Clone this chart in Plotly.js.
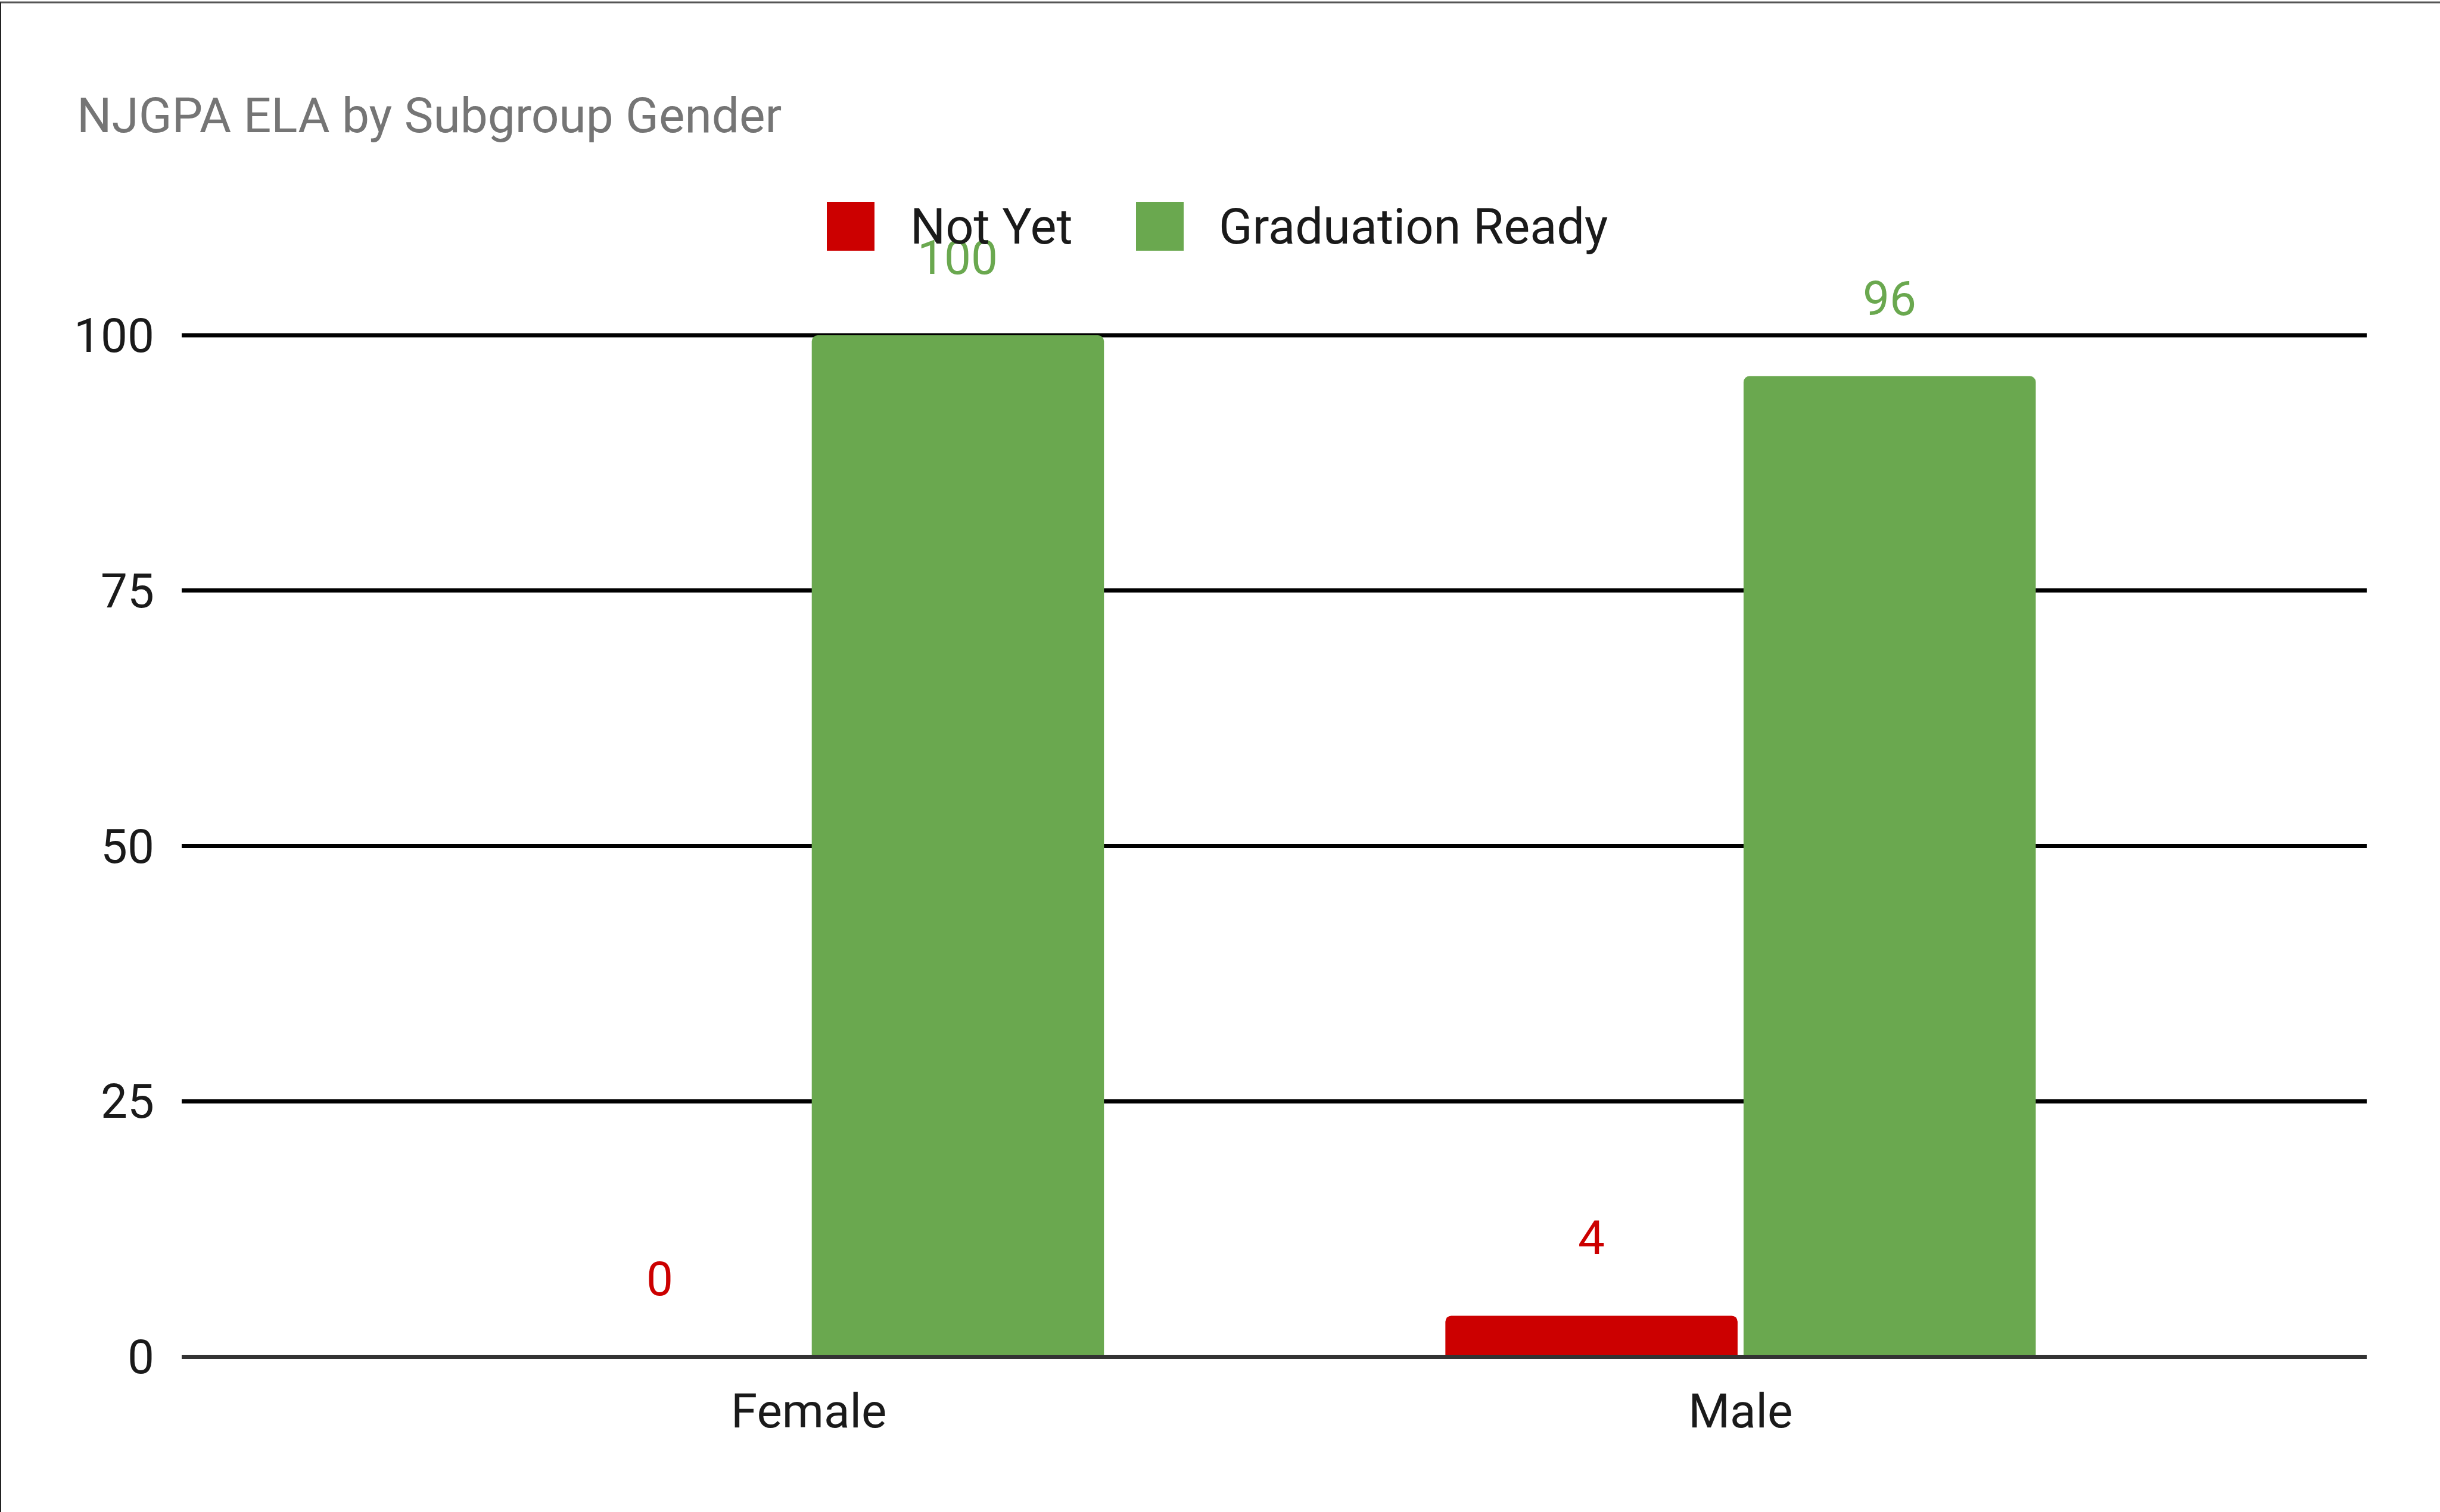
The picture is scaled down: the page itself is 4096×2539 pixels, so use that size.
<!DOCTYPE html>
<html>
<head>
<meta charset="utf-8">
<script src="https://cdn.plot.ly/plotly-3.0.1.min.js"></script>
<style>
  html, body { margin: 0; padding: 0; background: #ffffff; }
  #chart { width: 4096px; height: 2539px; }
</style>
</head>
<body>
<div id="chart"></div>
<script>
// ---- Data ----
const categories = ['Female', 'Male'];
const seriesNames = ['Not Yet', 'Graduation Ready'];
const notYet = [0, 4];
const graduationReady = [100, 96];
const seriesColors = ['#cc0000', '#6aa84f'];
const yTickVals = [0, 25, 50, 75, 100];
const chartTitle = 'NJGPA ELA by Subgroup Gender';

// ---- Geometry (output pixels) ----
const W = 4096, H = 2539;
const M = { l: 305, r: 123, t: 563, b: 261 };
const PW = W - M.l - M.r, PH = H - M.t - M.b;
const px2x = X => (X - M.l) / PW;
const px2y = Y => (H - M.b - Y) / PH;

const yRange = [0, 100];
const bargap = 0.36, bargroupgap = 0.02;
const slot = (1 - bargap) / 2;
const offsets = [-slot / 2, slot / 2];
const seriesValues = [notYet, graduationReady];
const FONT = 'Roboto, Arial, sans-serif';

const traces = seriesValues.map((vals, i) => ({
  type: 'bar',
  name: seriesNames[i],
  x: categories,
  y: vals,
  marker: { color: seriesColors[i], cornerradius: 10, line: { width: 0 } },
  hoverinfo: 'skip',
  showlegend: false
}));

// Data labels placed above bars via annotations
const annotations = [];
seriesValues.forEach((vals, i) => {
  vals.forEach((v, j) => {
    annotations.push({
      xref: 'x', yref: 'y',
      x: j + offsets[i], y: v,
      text: String(v),
      showarrow: false,
      xanchor: 'center', yanchor: 'middle',
      yshift: 130,
      font: { family: FONT, size: 80, color: seriesColors[i] }
    });
  });
});

// Custom legend
const legendItems = [
  { sq: [1388, 1468], tx: 1526 },
  { sq: [1907, 1987], tx: 2044 }
];
const legendY = [339, 421];
const shapes = [];
legendItems.forEach((it, i) => {
  shapes.push({
    type: 'rect', xref: 'paper', yref: 'paper',
    x0: px2x(it.sq[0]), x1: px2x(it.sq[1]),
    y0: px2y(legendY[1]), y1: px2y(legendY[0]),
    fillcolor: seriesColors[i], line: { width: 0 }
  });
  annotations.push({
    xref: 'paper', yref: 'paper',
    x: px2x(it.tx), y: px2y(380),
    text: seriesNames[i],
    showarrow: false, xanchor: 'left', yanchor: 'middle',
    font: { family: FONT, size: 83, color: '#1a1a1a' }
  });
});

// Gridline at the top of the range (Plotly omits it at the edge; paper ref avoids clipping)
const yTop = yTickVals[yTickVals.length - 1];
const yTopPaper = (yTop - yRange[0]) / (yRange[1] - yRange[0]);
shapes.push({ type: 'line', xref: 'paper', yref: 'paper', layer: 'below',
  x0: 0, x1: 1, y0: yTopPaper, y1: yTopPaper,
  line: { color: '#000000', width: 7 } });

// Chart border (top and left)
shapes.push({ type: 'line', xref: 'paper', yref: 'paper',
  x0: px2x(0), x1: px2x(W), y0: px2y(4), y1: px2y(4),
  line: { color: '#555555', width: 3 } });
shapes.push({ type: 'line', xref: 'paper', yref: 'paper',
  x0: px2x(1), x1: px2x(1), y0: px2y(4), y1: px2y(H),
  line: { color: '#222222', width: 2 } });

const layout = {
  width: W, height: H,
  margin: M,
  paper_bgcolor: '#ffffff',
  plot_bgcolor: '#ffffff',
  barmode: 'group',
  bargap: bargap,
  bargroupgap: bargroupgap,
  showlegend: false,
  title: {
    text: chartTitle,
    xref: 'container', yref: 'container',
    x: 129 / W, xanchor: 'left',
    y: 1 - 193 / H, yanchor: 'middle',
    font: { family: FONT, size: 82, color: '#757575' }
  },
  xaxis: {
    type: 'category',
    range: [-0.673, 1.672],
    showgrid: false,
    zeroline: false,
    showline: false,
    ticks: '',
    ticklabelstandoff: 38,
    tickfont: { family: FONT, size: 80, color: '#1a1a1a' }
  },
  yaxis: {
    range: yRange,
    tickvals: yTickVals,
    ticktext: yTickVals.map(String),
    showgrid: true,
    gridcolor: '#000000',
    gridwidth: 7,
    zeroline: true,
    zerolinecolor: '#333333',
    zerolinewidth: 7,
    zerolinelayer: 'above traces',
    showline: false,
    ticks: '',
    ticklabelstandoff: 45,
    tickfont: { family: FONT, size: 80, color: '#1a1a1a' }
  },
  shapes: shapes,
  annotations: annotations,
  font: { family: FONT }
};

Plotly.newPlot('chart', traces, layout, { staticPlot: true, displayModeBar: false });
</script>
</body>
</html>
